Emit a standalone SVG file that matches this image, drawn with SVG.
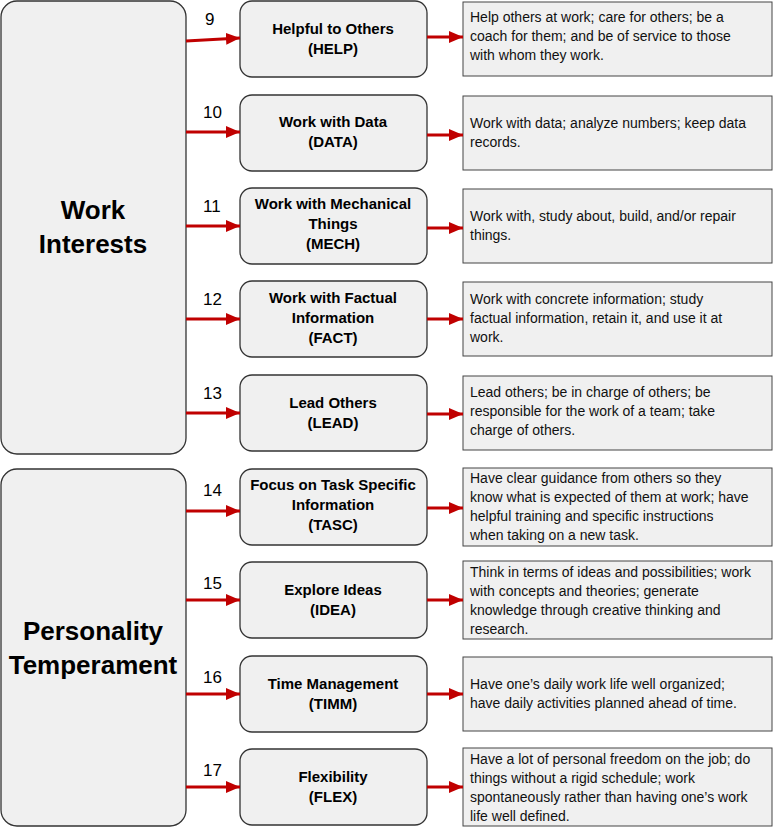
<svg xmlns="http://www.w3.org/2000/svg" width="774" height="828" viewBox="0 0 774 828">
<defs>
<marker id="ah" markerWidth="14" markerHeight="12" refX="14" refY="6" orient="auto" markerUnits="userSpaceOnUse" viewBox="0 0 14 12"><path d="M0,0 L14,6 L0,12 z" fill="#c00000"/></marker>
<style>
.big{fill:#f0f0f0;stroke:#333;stroke-width:1.3}
.mid{fill:#f0f0f0;stroke:#333;stroke-width:1.3}
.desc{fill:#f0f0f0;stroke:#444;stroke-width:1}
.bt{font-family:"Liberation Sans",Arial,sans-serif;font-weight:bold;font-size:26px;text-anchor:middle;fill:#000}
.mt{font-family:"Liberation Sans",Arial,sans-serif;font-weight:bold;font-size:15px;text-anchor:middle;fill:#000}
.dt{font-family:"Liberation Sans",Arial,sans-serif;font-size:14px;fill:#111}
.num{font-family:"Liberation Sans",Arial,sans-serif;font-size:17px;fill:#000}
.ar{stroke:#c00000;stroke-width:3;fill:none;marker-end:url(#ah)}
</style>
</defs>
<rect width="774" height="828" fill="#fff"/>
<g id="work-interests"><rect class="big" x="1" y="1" width="185" height="453" rx="16"/><text class="bt" x="93" y="219">Work</text><text class="bt" x="93" y="253">Interests</text></g>
<g id="personality"><rect class="big" x="1" y="469" width="185" height="357" rx="16"/><text class="bt" x="93" y="640">Personality</text><text class="bt" x="93" y="674">Temperament</text></g>

<g id="help"><rect class="mid" x="240" y="1" width="187" height="76" rx="12"/><text class="mt" x="333" y="34">Helpful to Others</text><text class="mt" x="333" y="54">(HELP)</text></g>
<g id="help-d"><rect class="desc" x="463" y="2" width="309" height="74"/><text class="dt" x="470" y="22">Help others at work; care for others; be a</text><text class="dt" x="470" y="41">coach for them; and be of service to those</text><text class="dt" x="470" y="60">with whom they work.</text></g>

<g id="data"><rect class="mid" x="240" y="95" width="187" height="76" rx="12"/><text class="mt" x="333" y="127">Work with Data</text><text class="mt" x="333" y="147">(DATA)</text></g>
<g id="data-d"><rect class="desc" x="463" y="96" width="309" height="74"/><text class="dt" x="470" y="128">Work with data; analyze numbers; keep data</text><text class="dt" x="470" y="147">records.</text></g>

<g id="mech"><rect class="mid" x="240" y="188" width="187" height="76" rx="12"/><text class="mt" x="333" y="209">Work with Mechanical</text><text class="mt" x="333" y="229">Things</text><text class="mt" x="333" y="249">(MECH)</text></g>
<g id="mech-d"><rect class="desc" x="463" y="189" width="309" height="74"/><text class="dt" x="470" y="221">Work with, study about, build, and/or repair</text><text class="dt" x="470" y="240">things.</text></g>

<g id="fact"><rect class="mid" x="240" y="281" width="187" height="76" rx="12"/><text class="mt" x="333" y="303">Work with Factual</text><text class="mt" x="333" y="323">Information</text><text class="mt" x="333" y="343">(FACT)</text></g>
<g id="fact-d"><rect class="desc" x="463" y="282" width="309" height="74"/><text class="dt" x="470" y="304">Work with concrete information; study</text><text class="dt" x="470" y="323">factual information, retain it, and use it at</text><text class="dt" x="470" y="342">work.</text></g>

<g id="lead"><rect class="mid" x="240" y="375" width="187" height="76" rx="12"/><text class="mt" x="333" y="408">Lead Others</text><text class="mt" x="333" y="428">(LEAD)</text></g>
<g id="lead-d"><rect class="desc" x="463" y="376" width="309" height="74"/><text class="dt" x="470" y="397">Lead others; be in charge of others; be</text><text class="dt" x="470" y="416">responsible for the work of a team; take</text><text class="dt" x="470" y="435">charge of others.</text></g>

<g id="tasc"><rect class="mid" x="240" y="469" width="187" height="76" rx="12"/><text class="mt" x="333" y="490">Focus on Task Specific</text><text class="mt" x="333" y="510">Information</text><text class="mt" x="333" y="530">(TASC)</text></g>
<g id="tasc-d"><rect class="desc" x="463" y="468" width="309" height="78"/><text class="dt" x="470" y="483">Have clear guidance from others so they</text><text class="dt" x="470" y="502">know what is expected of them at work; have</text><text class="dt" x="470" y="521">helpful training and specific instructions</text><text class="dt" x="470" y="540">when taking on a new task.</text></g>

<g id="idea"><rect class="mid" x="240" y="562" width="187" height="76" rx="12"/><text class="mt" x="333" y="595">Explore Ideas</text><text class="mt" x="333" y="615">(IDEA)</text></g>
<g id="idea-d"><rect class="desc" x="463" y="561" width="309" height="78"/><text class="dt" x="470" y="577">Think in terms of ideas and possibilities; work</text><text class="dt" x="470" y="596">with concepts and theories; generate</text><text class="dt" x="470" y="615">knowledge through creative thinking and</text><text class="dt" x="470" y="634">research.</text></g>

<g id="timm"><rect class="mid" x="240" y="656" width="187" height="76" rx="12"/><text class="mt" x="333" y="689">Time Management</text><text class="mt" x="333" y="709">(TIMM)</text></g>
<g id="timm-d"><rect class="desc" x="463" y="657" width="309" height="74"/><text class="dt" x="470" y="689">Have one’s daily work life well organized;</text><text class="dt" x="470" y="708">have daily activities planned ahead of time.</text></g>

<g id="flex"><rect class="mid" x="240" y="749" width="187" height="76" rx="12"/><text class="mt" x="333" y="782">Flexibility</text><text class="mt" x="333" y="802">(FLEX)</text></g>
<g id="flex-d"><rect class="desc" x="463" y="748" width="309" height="78"/><text class="dt" x="470" y="764">Have a lot of personal freedom on the job; do</text><text class="dt" x="470" y="783">things without a rigid schedule; work</text><text class="dt" x="470" y="802">spontaneously rather than having one’s work</text><text class="dt" x="470" y="821">life well defined.</text></g>

<g id="numbers">
<text class="num" x="205" y="25">9</text><text class="num" x="203" y="118">10</text><text class="num" x="203" y="212">11</text><text class="num" x="203" y="305">12</text><text class="num" x="203" y="399">13</text><text class="num" x="203" y="496">14</text><text class="num" x="203" y="589">15</text><text class="num" x="203" y="683">16</text><text class="num" x="203" y="776">17</text>
</g>
<g id="connectors">
<path class="ar" d="M186,41 L240,38"/><path class="ar" d="M186,132 L240,132"/><path class="ar" d="M186,226 L240,226"/><path class="ar" d="M186,319 L240,319"/><path class="ar" d="M186,413 L240,413"/><path class="ar" d="M186,511 L240,511"/><path class="ar" d="M186,600 L240,600"/><path class="ar" d="M186,694 L240,694"/><path class="ar" d="M186,787 L240,787"/>
<path class="ar" d="M427,37 L463,37"/><path class="ar" d="M427,135 L463,135"/><path class="ar" d="M427,228 L463,228"/><path class="ar" d="M427,319 L463,319"/><path class="ar" d="M427,414 L463,414"/><path class="ar" d="M427,508 L463,508"/><path class="ar" d="M427,600 L463,600"/><path class="ar" d="M427,694 L463,694"/><path class="ar" d="M427,787 L463,787"/>
</g>
</svg>
